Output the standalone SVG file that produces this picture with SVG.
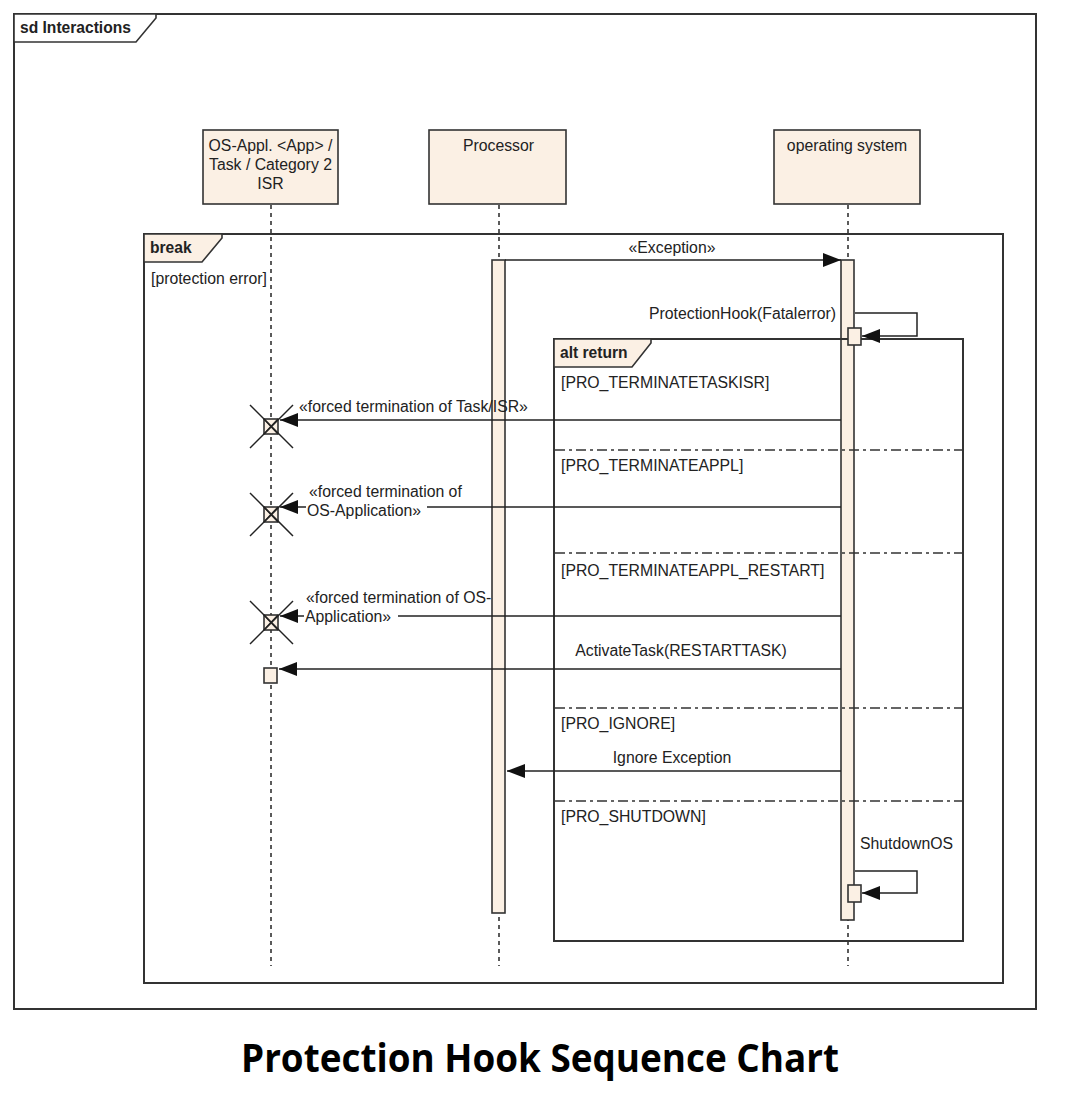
<svg xmlns="http://www.w3.org/2000/svg" width="1080" height="1103" viewBox="0 0 1080 1103">
<defs>
<marker id="ah" viewBox="0 0 18 14" refX="18" refY="7" markerWidth="18" markerHeight="14" markerUnits="userSpaceOnUse" orient="auto">
<path d="M0,0 L18,7 L0,14 z" fill="#111"/>
</marker>
</defs>
<style>
.frame{fill:none;stroke:#333;stroke-width:2}
.tab{fill:#fbf0e4;stroke:#333;stroke-width:1.6}
.tabw{fill:#fff;stroke:#333;stroke-width:1.6}
.box{fill:#fbf0e4;stroke:#333;stroke-width:1.6}
.life{stroke:#333;stroke-width:1.6;stroke-dasharray:4,4;fill:none}
.msg{stroke:#222;stroke-width:1.5;fill:none}
.sep{stroke:#333;stroke-width:1.5;stroke-dasharray:10,4,3,4;fill:none}
.t{font-family:"Liberation Sans",Arial,sans-serif;font-size:15.8px;fill:#222}
.tb{font-family:"Liberation Sans",Arial,sans-serif;font-size:15.6px;font-weight:bold;fill:#222}
.x{stroke:#222;stroke-width:1.5}
</style>
<rect width="1080" height="1103" fill="#fff"/>

<g id="frame-sd">
<rect x="14" y="14" width="1022" height="995" class="frame"/>
<path d="M14,14 L156,14 L156,18 L136,42 L14,42 z" class="tabw"/>
<text x="20" y="33" class="tb">sd Interactions</text>
</g>

<g id="lifelines">
<line x1="271" y1="205" x2="271" y2="966" class="life"/>
<line x1="499" y1="205" x2="499" y2="966" class="life"/>
<line x1="848" y1="205" x2="848" y2="966" class="life"/>
</g>

<g id="node-app">
<rect x="203" y="130" width="135" height="74" class="box"/>
<text x="270.5" y="151" class="t" text-anchor="middle">OS-Appl. &lt;App&gt; /</text>
<text x="270.5" y="170" class="t" text-anchor="middle">Task / Category 2</text>
<text x="270.5" y="189" class="t" text-anchor="middle">ISR</text>
</g>
<g id="node-processor">
<rect x="429" y="130" width="137" height="74" class="box"/>
<text x="498.5" y="151" class="t" text-anchor="middle">Processor</text>
</g>
<g id="node-os">
<rect x="774" y="130" width="146" height="74" class="box"/>
<text x="847" y="151" class="t" text-anchor="middle">operating system</text>
</g>

<g id="frame-break">
<rect x="144" y="234" width="859" height="749" class="frame"/>
<path d="M144,234 L222,234 L222,238 L202,262 L144,262 z" class="tab"/>
<text x="150" y="253" class="tb">break</text>
<text x="151" y="284" class="t">[protection error]</text>
</g>

<g id="activation-processor">
<rect x="492" y="260" width="13" height="653" class="box"/>
</g>
<g id="activation-os">
<rect x="841" y="260" width="13" height="660" class="box"/>
</g>

<g id="frame-alt">
<rect x="554" y="339" width="409" height="602" class="frame"/>
<path d="M554,339 L651,339 L651,343 L632,367 L554,367 z" class="tab"/>
<text x="560" y="358" class="tb">alt return</text>
<line x1="555" y1="450" x2="962" y2="450" class="sep"/>
<line x1="555" y1="553" x2="962" y2="553" class="sep"/>
<line x1="555" y1="708" x2="962" y2="708" class="sep"/>
<line x1="555" y1="801" x2="962" y2="801" class="sep"/>
<text x="561" y="388" class="t">[PRO_TERMINATETASKISR]</text>
<text x="561" y="471" class="t">[PRO_TERMINATEAPPL]</text>
<text x="561" y="576" class="t">[PRO_TERMINATEAPPL_RESTART]</text>
<text x="561" y="729" class="t">[PRO_IGNORE]</text>
<text x="561" y="822" class="t">[PRO_SHUTDOWN]</text>
</g>

<g id="exec-small">
<rect x="848" y="328" width="13" height="17" class="box"/>
<rect x="848" y="885" width="13" height="17" class="box"/>
<rect x="264" y="668" width="13" height="15" class="box"/>
</g>

<g id="destructions">
<g>
<rect x="264" y="419" width="14" height="15" class="box"/>
<line x1="264" y1="419" x2="278" y2="434" class="x"/>
<line x1="278" y1="419" x2="264" y2="434" class="x"/>
<line x1="250" y1="405" x2="293" y2="448" class="x"/>
<line x1="293" y1="405" x2="250" y2="448" class="x"/>
</g>
<g>
<rect x="264" y="507" width="14" height="15" class="box"/>
<line x1="264" y1="507" x2="278" y2="522" class="x"/>
<line x1="278" y1="507" x2="264" y2="522" class="x"/>
<line x1="250" y1="493" x2="293" y2="536" class="x"/>
<line x1="293" y1="493" x2="250" y2="536" class="x"/>
</g>
<g>
<rect x="264" y="615" width="14" height="15" class="box"/>
<line x1="264" y1="615" x2="278" y2="630" class="x"/>
<line x1="278" y1="615" x2="264" y2="630" class="x"/>
<line x1="250" y1="601" x2="293" y2="644" class="x"/>
<line x1="293" y1="601" x2="250" y2="644" class="x"/>
</g>
</g>

<g id="connectors">
<line x1="505" y1="260" x2="841" y2="260" class="msg" marker-end="url(#ah)"/>
<polyline points="855,313 917,313 917,336 862,336" class="msg" marker-end="url(#ah)"/>
<line x1="841" y1="420" x2="280" y2="420" class="msg" marker-end="url(#ah)"/>
<line x1="841" y1="507" x2="280" y2="507" class="msg" marker-end="url(#ah)"/>
<line x1="841" y1="616" x2="280" y2="616" class="msg" marker-end="url(#ah)"/>
<line x1="841" y1="669" x2="279" y2="669" class="msg" marker-end="url(#ah)"/>
<line x1="841" y1="771" x2="507" y2="771" class="msg" marker-end="url(#ah)"/>
<polyline points="855,871 917,871 917,893 862,893" class="msg" marker-end="url(#ah)"/>
</g>

<g id="labels">
<text x="672" y="253" class="t" text-anchor="middle">«Exception»</text>
<text x="836" y="319" class="t" text-anchor="end">ProtectionHook(Fatalerror)</text>
<text x="299" y="412" class="t">«forced termination of Task/ISR»</text>
<text x="309" y="497" class="t">«forced termination of</text>
<rect x="306" y="501" width="121" height="16" fill="#fff"/>
<text x="307" y="516" class="t">OS-Application»</text>
<text x="306" y="603" class="t">«forced termination of OS-</text>
<rect x="304" y="610" width="94" height="16" fill="#fff"/>
<text x="305" y="622" class="t">Application»</text>
<text x="681" y="656" class="t" text-anchor="middle">ActivateTask(RESTARTTASK)</text>
<text x="672" y="763" class="t" text-anchor="middle">Ignore Exception</text>
<text x="860" y="849" class="t">ShutdownOS</text>
</g>

<text x="540" y="1072" font-family="'Open Sans','Noto Sans',sans-serif" font-weight="bold" font-size="40" fill="#000" text-anchor="middle" textLength="598" lengthAdjust="spacingAndGlyphs">Protection Hook Sequence Chart</text>
</svg>
